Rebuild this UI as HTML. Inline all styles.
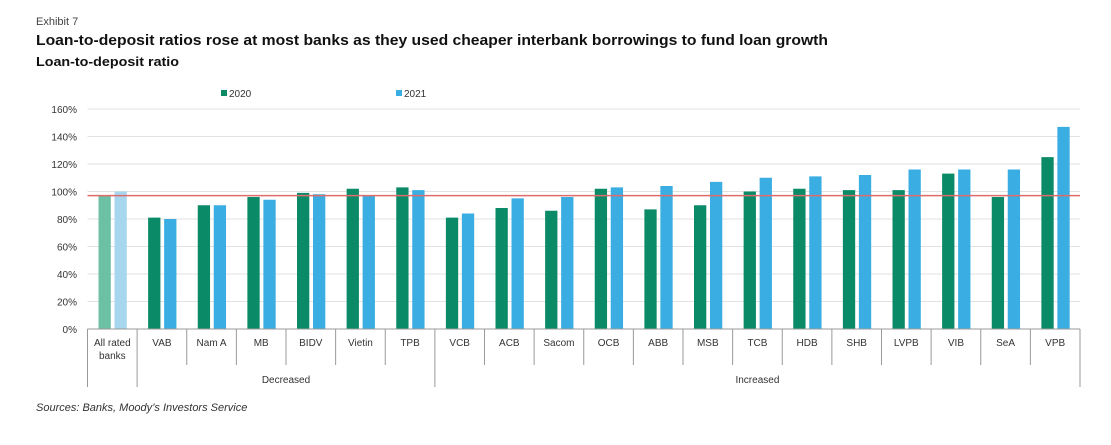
<!DOCTYPE html>
<html><head><meta charset="utf-8"><style>
html,body{margin:0;padding:0;background:#fff;width:1111px;height:445px;overflow:hidden}
svg{display:block;font-family:"Liberation Sans",Arial,sans-serif}
</style></head><body>
<svg id="chart" width="1111" height="445" viewBox="0 0 1111 445">
<text x="36" y="25" font-size="11" fill="#444">Exhibit 7</text>
<text x="36" y="45" font-size="15" font-weight="bold" fill="#111" textLength="792" lengthAdjust="spacingAndGlyphs">Loan-to-deposit ratios rose at most banks as they used cheaper interbank borrowings to fund loan growth</text>
<text x="36" y="66" font-size="13" font-weight="bold" fill="#111" textLength="143" lengthAdjust="spacingAndGlyphs">Loan-to-deposit ratio</text>
<g>
<rect x="221" y="90" width="6" height="6" fill="#0b8a67"/>
<text x="229" y="97" font-size="10" fill="#333">2020</text>
<rect x="396" y="90" width="6" height="6" fill="#3aaee2"/>
<text x="404" y="97" font-size="10" fill="#333">2021</text>
</g>
<g id="grid"></g><g id="bars"></g><g id="axes"></g>
<text x="36" y="411" font-size="11" font-style="italic" fill="#333">Sources: Banks, Moody’s Investors Service</text>
</svg>
<script>
const categories=["All rated|banks","VAB","Nam A","MB","BIDV","Vietin","TPB","VCB","ACB","Sacom","OCB","ABB","MSB","TCB","HDB","SHB","LVPB","VIB","SeA","VPB"];
const values2020=[97,81,90,96,99,102,103,81,88,86,102,87,90,100,102,101,101,113,96,125];
const values2021=[100,80,90,94,98,97,101,84,95,96,103,104,107,110,111,112,116,116,116,147];
const yTicks=[0,20,40,60,80,100,120,140,160];
const refLine=97;
const groups=[{label:"Decreased",from:1,to:6},{label:"Increased",from:7,to:19}];
const NS="http://www.w3.org/2000/svg";
const X0=87.5,X1=1080,Y0=329,Y1=109,YMAX=160;
const cw=(X1-X0)/categories.length;
const y=v=>Y0-(v/YMAX)*(Y0-Y1);
const x=i=>X0+i*cw;
function mk(tag,attrs,parent,txt){const e=document.createElementNS(NS,tag);for(const k in attrs)e.setAttribute(k,attrs[k]);if(txt!==undefined)e.textContent=txt;parent.appendChild(e);return e;}
const grid=document.getElementById('grid'),bars=document.getElementById('bars'),axes=document.getElementById('axes');
yTicks.forEach(t=>{
 if(t>0){const l=mk('line',{x1:X0,x2:X1,y1:y(t),y2:y(t),stroke:'#e2e2e2','stroke-width':1},grid);
 
 }
 const tx=mk('text',{x:77,y:y(t)+4,'font-size':10,'text-anchor':'end',fill:'#333'},axes,t+'%');
 
 
});
categories.forEach((c,i)=>{
 const b1=mk('rect',{x:x(i)+11,y:y(values2020[i]),width:12.3,height:Y0-y(values2020[i]),fill:i===0?'#6cc0a4':'#0b8a67'},bars);
 
 
 const b2=mk('rect',{x:x(i)+27,y:y(values2021[i]),width:12.3,height:Y0-y(values2021[i]),fill:i===0?'#a6d7ef':'#3aaee2'},bars);
 
 
 const lines=c.split('|');
 lines.forEach((ln,j)=>{const t=mk('text',{x:x(i)+cw/2,y:346+j*13,'font-size':10,'text-anchor':'middle',fill:'#333'},axes,ln);
 
 });
});
const rl=mk('line',{x1:X0,x2:X1,y1:y(refLine),y2:y(refLine),stroke:'#e06b6b','stroke-width':1.5},bars);


const ax=mk('line',{x1:X0,x2:X1,y1:Y0,y2:Y0,stroke:'#999','stroke-width':1},axes);


const longSeps=[0,1,7,20];
for(let i=0;i<=categories.length;i++){
 const long=longSeps.includes(i);
 const s=mk('line',{x1:x(i),x2:x(i),y1:Y0,y2:long?387:365,stroke:'#999','stroke-width':1},axes);
 
 
}
groups.forEach(g=>{
 const cx=(x(g.from)+x(g.to+1))/2;
 const t=mk('text',{x:cx,y:383,'font-size':10,'text-anchor':'middle',fill:'#333'},axes,g.label);
 
 
});
</script>
</body></html>
